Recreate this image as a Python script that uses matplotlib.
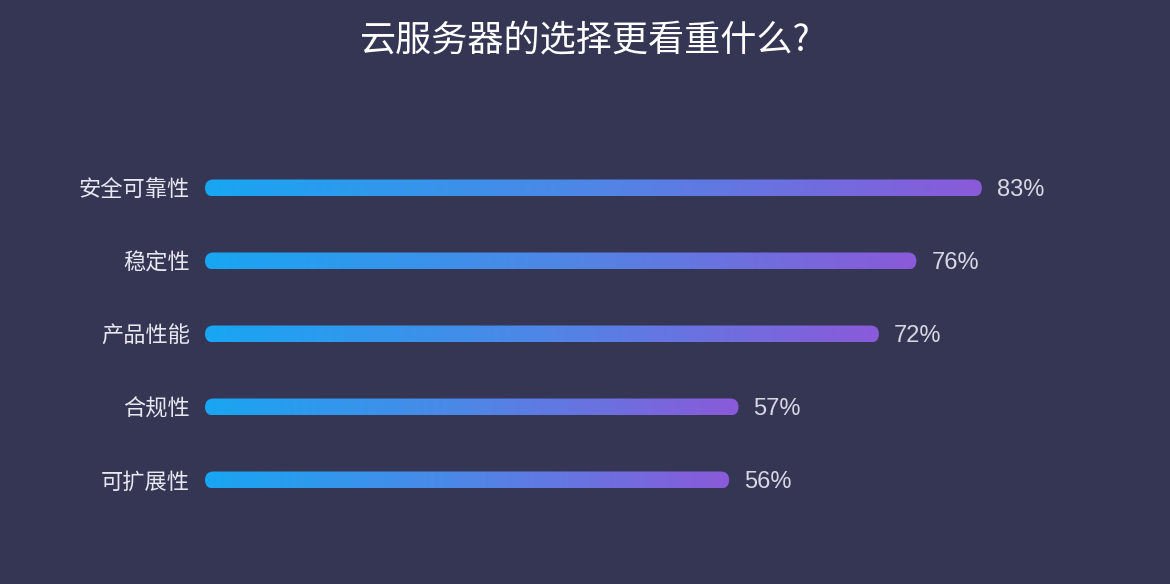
import numpy as np
import matplotlib
matplotlib.use("Agg")
import matplotlib.pyplot as plt
from matplotlib.colors import LinearSegmentedColormap
from matplotlib.patches import FancyBboxPatch

plt.rcParams['font.family'] = ['Noto Sans CJK SC', 'DejaVu Sans']

title = "云服务器的选择更看重什么?"
categories = ["安全可靠性", "稳定性", "产品性能", "合规性", "可扩展性"]
values = [83, 76, 72, 57, 56]
value_labels = ["83%", "76%", "72%", "57%", "56%"]

BG = "#343654"
W, H, DPI = 11.7, 5.84, 100
fig = plt.figure(figsize=(W, H), dpi=DPI, facecolor=BG)
ax = fig.add_axes([0, 0, 1, 1])
ax.set_facecolor(BG)

# pixel layout: value 0 at x=205 px, 9.36 px per %, rows at 188 + 73*i px
px_per_unit = 9.36
x0_px = 205
row_px = 73.0
y0_px = 188.0
ax.axis('off')

cmap = LinearSegmentedColormap.from_list("g", ["#18a6f2", "#4f86e6", "#8a5ad9"])
grad = np.linspace(0, 1, 256).reshape(1, -1)

bar_h_px = 17
bh = bar_h_px / row_px
round_x = (bar_h_px / 2) / px_per_unit
aspect = (1 / row_px) / (1 / px_per_unit)
text_dy = 2 / row_px

for i, (cat, v, lab) in enumerate(zip(categories, values, value_labels)):
    patch = FancyBboxPatch((0, i - bh / 2), v, bh,
                           boxstyle=f"round,pad=0,rounding_size={round_x}",
                           mutation_aspect=aspect,
                           facecolor='none', edgecolor='none')
    ax.add_patch(patch)
    im = ax.imshow(grad, cmap=cmap, aspect='auto',
                   extent=[0, v, i + bh / 2, i - bh / 2], interpolation='bicubic')
    im.set_clip_path(patch)
    ax.text(-15 / px_per_unit, i + text_dy, cat, ha='right', va='center',
            fontsize=16, color='#e8e8f0')
    ax.text(v + 15 / px_per_unit, i + text_dy, lab, ha='left', va='center',
            fontsize=17, color='#d8d8e4',
            family=['Liberation Sans', 'DejaVu Sans'])

ax.set_xlim(-x0_px / px_per_unit, (1170 - x0_px) / px_per_unit)
ax.set_ylim((584 - y0_px) / row_px, -y0_px / row_px)

fig.text(0.5, 1 - 40 / 584, title, ha='center', va='center',
         fontsize=26, color='white')

fig.savefig("out.png", dpi=DPI, facecolor=BG)
